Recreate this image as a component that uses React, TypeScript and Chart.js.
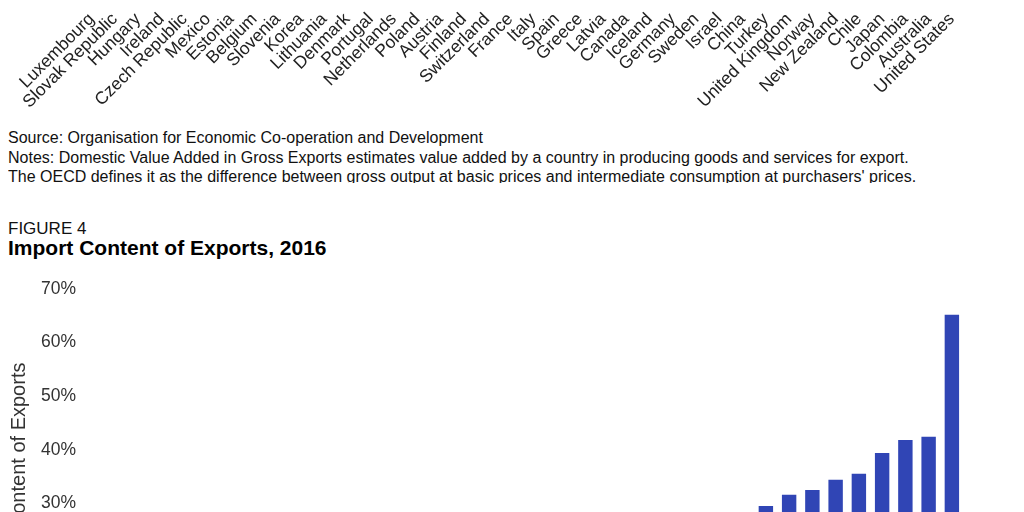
import { Chart, registerables } from "chart.js";
import { useEffect, useRef } from "react";

Chart.register(...registerables);

// Figure 3 (only its x-axis labels are in view)
const dvaCountries = [
  "Luxembourg", "Slovak Republic", "Hungary", "Ireland", "Czech Republic", "Mexico",
  "Estonia", "Belgium", "Slovenia", "Korea", "Lithuania", "Denmark", "Portugal",
  "Netherlands", "Poland", "Austria", "Finland", "Switzerland", "France", "Italy",
  "Spain", "Greece", "Latvia", "Canada", "Iceland", "Germany", "Sweden", "Israel",
  "China", "Turkey", "United Kingdom", "Norway", "New Zealand", "Chile", "Japan",
  "Colombia", "Australia", "United States",
];
const dvaShare = [
  34.8, 57.6, 58.2, 60.6, 64.5, 65.6, 67.5, 68.4, 70.5, 72.1, 72.4, 72.9, 73.4,
  74.0, 74.6, 75.1, 75.8, 76.3, 77.5, 78.1, 78.8, 79.3, 79.9, 80.5, 81.0, 81.5,
  81.9, 82.6, 83.3, 83.9, 84.5, 85.2, 85.8, 86.3, 87.1, 88.2, 88.9, 90.6,
];
const dvaTicks = [20, 40, 60, 80, 100];

// Figure 4
const importCountries = [
  "United States", "Australia", "Colombia", "Japan", "Chile", "New Zealand", "Norway",
  "United Kingdom", "Turkey", "China", "Israel", "Sweden", "Germany", "Iceland",
  "Canada", "Latvia", "Greece", "Spain", "Italy", "France", "Switzerland", "Finland",
  "Austria", "Poland", "Netherlands", "Portugal", "Denmark", "Lithuania", "Korea",
  "Slovenia", "Belgium", "Estonia", "Mexico", "Czech Republic", "Ireland", "Hungary",
  "Slovak Republic", "Luxembourg",
];
const importShare = [
  9.4, 11.1, 11.8, 12.9, 13.7, 14.2, 14.8, 15.5, 16.1, 16.7, 17.4, 18.1, 18.5,
  19.0, 19.5, 20.1, 20.7, 21.2, 21.9, 22.5, 23.7, 24.2, 24.9, 25.4, 26.0, 26.6,
  27.1, 27.4, 27.9, 29.5, 31.6, 32.5, 34.4, 35.5, 39.4, 41.8, 42.4, 65.2,
];
const importTicks = [0, 10, 20, 30, 40, 50, 60, 70];

const BAR = "#3045b5";
const SANS = "'Liberation Sans', Arial, sans-serif";

interface PanelProps {
  labels: string[];
  values: number[];
  ticks: number[];
  yMin: number;
  yTitle: string;
  top: number;
  labelPad: number;
}

const BarPanel = ({ labels, values, ticks, yMin, yTitle, top, labelPad }: PanelProps) => {
  const canvasRef = useRef<HTMLCanvasElement>(null);
  const chartRef = useRef<Chart | null>(null);

  useEffect(() => {
    if (!canvasRef.current) return;
    chartRef.current?.destroy();

    chartRef.current = new Chart(canvasRef.current, {
      type: "bar",
      data: {
        labels,
        datasets: [
          {
            data: values,
            backgroundColor: BAR,
            borderWidth: 0,
            barPercentage: 0.62,
            categoryPercentage: 1,
          },
        ],
      },
      options: {
        responsive: true,
        maintainAspectRatio: false,
        animation: false,
        layout: { padding: { top: 30, right: 60.5, left: 0, bottom: 0 } },
        plugins: { legend: { display: false }, tooltip: { enabled: false } },
        scales: {
          x: {
            grid: { display: false, drawTicks: false },
            border: { display: false },
            ticks: {
              minRotation: 45,
              maxRotation: 45,
              autoSkip: false,
              padding: labelPad,
              color: "#222",
              font: { family: SANS, size: 17.5 },
            },
            afterFit: (scale) => {
              scale.height = 110;
            },
          },
          y: {
            min: yMin,
            max: ticks[ticks.length - 1],
            afterBuildTicks: (scale) => {
              scale.ticks = ticks.map((v) => ({ value: v }));
            },
            afterFit: (scale) => {
              scale.width = 80;
            },
            grid: { display: false, drawTicks: false },
            border: { display: false },
            title: {
              display: true,
              text: yTitle,
              color: "#333",
              font: { family: SANS, size: 20 },
              padding: { top: 7, bottom: 0 },
            },
            ticks: {
              padding: 4,
              color: "#333",
              font: { family: SANS, size: 17.5 },
              callback: (v) => `${v}%`,
            },
          },
        },
      },
    });

    return () => {
      chartRef.current?.destroy();
    };
  }, [labels, values, ticks, yMin, yTitle, labelPad]);

  return (
    <div style={{ position: "absolute", left: 0, top, width: 1024, height: 515 }}>
      <canvas ref={canvasRef} />
    </div>
  );
};

const App = () => {
  return (
    <div
      style={{
        position: "fixed",
        left: 0,
        top: 0,
        width: 1024,
        height: 512,
        overflow: "hidden",
        background: "#fff",
        fontFamily: SANS,
      }}
    >
      <BarPanel
        labels={dvaCountries}
        values={dvaShare}
        ticks={dvaTicks}
        yMin={0}
        yTitle="Domestic Value Added Share"
        top={-406}
        labelPad={10}
      />
      <div
        style={{
          position: "absolute",
          left: 8,
          top: 128,
          width: 1000,
          height: 55,
          overflow: "hidden",
          fontSize: 16,
          lineHeight: "19.5px",
          color: "#111",
        }}
      >
        <div>Source: Organisation for Economic Co-operation and Development</div>
        <div>
          Notes: Domestic Value Added in Gross Exports estimates value added by a country in
          producing goods and services for export.
        </div>
        <div>
          The OECD defines it as the difference between gross output at basic prices and
          intermediate consumption at purchasers' prices.
        </div>
      </div>
      <div style={{ position: "absolute", left: 8, top: 219, fontSize: 17, lineHeight: "20px", color: "#111" }}>
        FIGURE 4
      </div>
      <div
        style={{
          position: "absolute",
          left: 8,
          top: 236,
          fontSize: 21,
          lineHeight: "24px",
          fontWeight: "bold",
          color: "#000",
        }}
      >
        Import Content of Exports, 2016
      </div>
      <BarPanel
        labels={importCountries}
        values={importShare}
        ticks={importTicks}
        yMin={0}
        yTitle="Import Content of Exports"
        top={259}
        labelPad={3}
      />
    </div>
  );
};

export default App;
